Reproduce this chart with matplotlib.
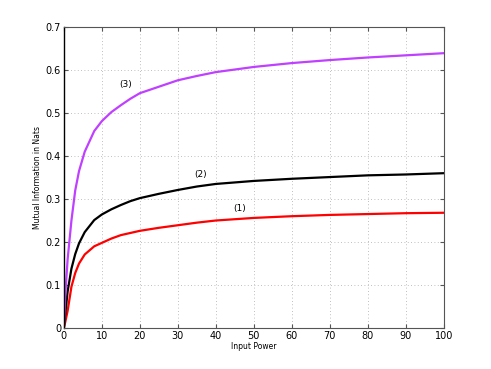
import numpy as np
import matplotlib.pyplot as plt

x = [0, 0.4, 1, 2, 3, 4, 5.5, 8, 10, 12.5, 15, 17.5, 20, 25, 30, 35, 40,
     50, 60, 70, 80, 90, 100]
red = [0, 0.015, 0.04, 0.096, 0.128, 0.15, 0.171, 0.19, 0.198, 0.208, 0.216,
       0.221, 0.226, 0.233, 0.239, 0.245, 0.25, 0.256, 0.26, 0.263, 0.265,
       0.267, 0.268]
black = [0, 0.035, 0.085, 0.138, 0.172, 0.197, 0.223, 0.251, 0.264, 0.276, 0.286,
         0.295, 0.302, 0.312, 0.321, 0.329, 0.335, 0.342, 0.347, 0.351, 0.355,
         0.357, 0.36]
purple = [0, 0.08, 0.16, 0.25, 0.32, 0.365, 0.41, 0.458, 0.481, 0.502, 0.518,
          0.533, 0.546, 0.561, 0.576, 0.586, 0.595, 0.607, 0.616, 0.623, 0.629,
          0.634, 0.639]

labels = ['(1)', '(2)', '(3)']
label_pos = [(46.3, 0.279), (36, 0.358), (16.3, 0.567)]

fig = plt.figure(figsize=(4.91, 3.69), dpi=100)
ax = fig.add_axes([0.130, 0.111, 0.774, 0.816])

ax.plot(x, red, color='#ff0000', lw=1.6)
ax.plot(x, black, color='black', lw=1.6)
ax.plot(x, purple, color='#bf40ff', lw=1.6)

for t, (tx, ty) in zip(labels, label_pos):
    ax.text(tx, ty, t, fontsize=6.5, ha='center', va='center')

ax.set_xlim(0, 100)
ax.set_ylim(0, 0.7)
ax.set_xticks(np.arange(0, 101, 10))
ax.set_yticks(np.arange(0, 0.71, 0.1))
ax.set_yticklabels(['0', '0.1', '0.2', '0.3', '0.4', '0.5', '0.6', '0.7'])
ax.grid(True, linestyle=(0, (1, 3)), color='#aaaaaa', lw=0.6)
ax.tick_params(direction='in', labelsize=7, length=3, top=True, right=True,
               color='#555555', pad=2)
for s in ax.spines.values():
    s.set_color('#555555')
ax.spines['left'].set_color('black')
ax.spines['left'].set_linewidth(1.0)
ax.set_xlabel('Input Power', fontsize=5.5, labelpad=1)
ax.set_ylabel('Mutual Information in Nats', fontsize=5.5, labelpad=3)

fig.savefig('out.png', dpi=100)
